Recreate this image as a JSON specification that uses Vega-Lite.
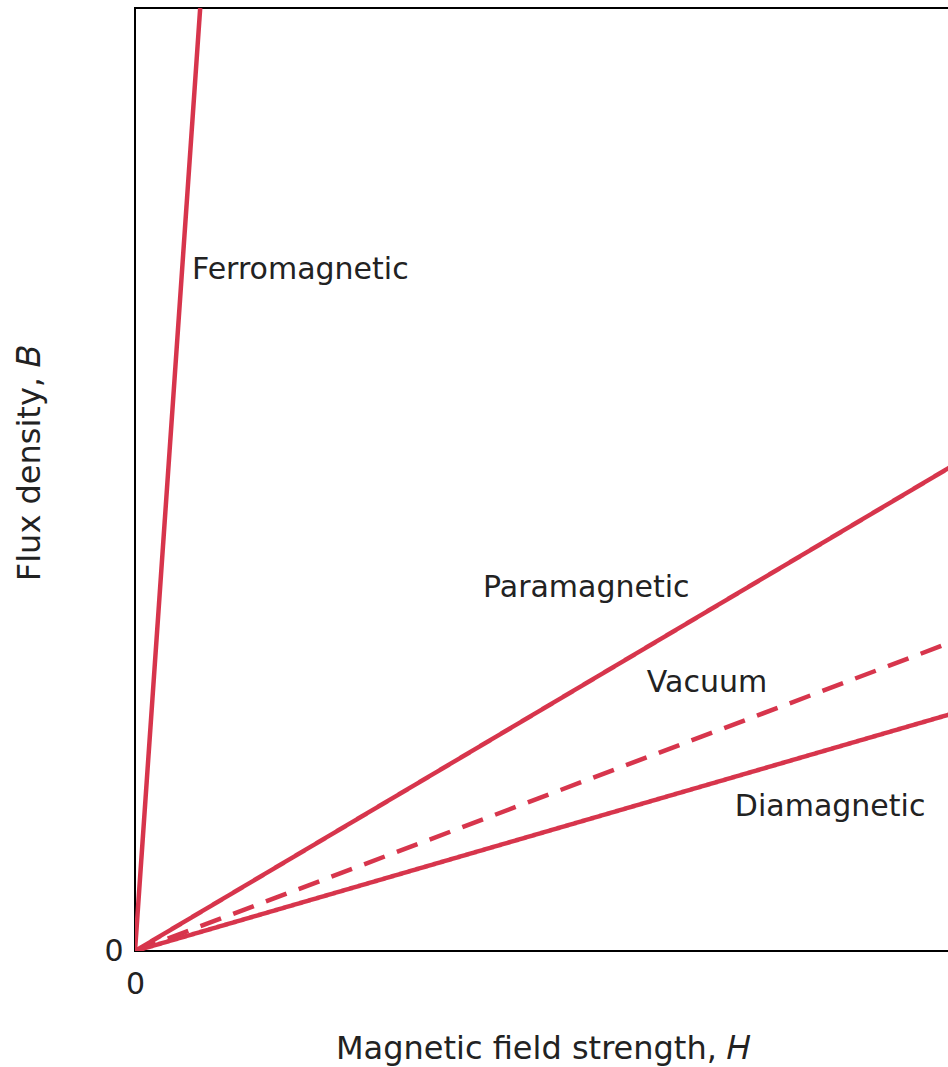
{
  "$schema": "https://vega.github.io/schema/vega-lite/v6.json",
  "width": 815,
  "height": 943,
  "autosize": {"type": "none"},
  "padding": {"left": 135, "top": 8, "right": 0, "bottom": 116},
  "background": "white",
  "config": {
    "view": {"stroke": "black", "strokeWidth": 2},
    "font": "DejaVu Sans"
  },
  "datasets": {
    "lines": [
      {"material": "Ferromagnetic", "H": 0, "B": 0},
      {"material": "Ferromagnetic", "H": 8.0, "B": 100},
      {"material": "Paramagnetic", "H": 0, "B": 0},
      {"material": "Paramagnetic", "H": 100, "B": 51.3},
      {"material": "Vacuum", "H": 0, "B": 0},
      {"material": "Vacuum", "H": 100, "B": 32.7},
      {"material": "Diamagnetic", "H": 0, "B": 0},
      {"material": "Diamagnetic", "H": 100, "B": 25.1}
    ],
    "labels": [
      {"label": "Ferromagnetic", "H": 7.0, "B": 72.2},
      {"label": "Paramagnetic", "H": 42.7, "B": 38.5},
      {"label": "Vacuum", "H": 62.8, "B": 28.4},
      {"label": "Diamagnetic", "H": 73.6, "B": 15.3}
    ]
  },
  "layer": [
    {
      "data": {"name": "lines"},
      "mark": {"type": "line", "color": "#d7354c", "strokeWidth": 4.5, "clip": true},
      "encoding": {
        "x": {"field": "H", "type": "quantitative", "scale": {"domain": [0, 100]},
          "axis": {"values": [0], "ticks": false, "grid": false, "domain": false,
            "labelFontSize": 30, "labelColor": "#222", "labelPadding": 18, "labelFlush": false,
            "title": "Magnetic field strength, 𝐻", "titleFontSize": 32, "titleFontWeight": "normal",
            "titleColor": "#222", "titlePadding": 34}},
        "y": {"field": "B", "type": "quantitative", "scale": {"domain": [0, 100]},
          "axis": {"values": [0], "ticks": false, "grid": false, "domain": false,
            "labelFontSize": 30, "labelColor": "#222", "labelPadding": 12, "labelFlush": false,
            "labelBaseline": "middle", "labelAlign": "right",
            "title": "Flux density, 𝐵", "titleFontSize": 32, "titleFontWeight": "normal",
            "titleColor": "#222", "titlePadding": 57, "titleY": 455}},
        "detail": {"field": "material"},
        "strokeDash": {
          "field": "material", "type": "nominal", "legend": null,
          "scale": {"domain": ["Ferromagnetic", "Paramagnetic", "Vacuum", "Diamagnetic"],
            "range": [[1, 0], [1, 0], [22, 13], [1, 0]]}
        }
      }
    },
    {
      "data": {"name": "labels"},
      "mark": {"type": "text", "align": "left", "baseline": "middle", "fontSize": 30, "color": "#222"},
      "encoding": {
        "x": {"field": "H", "type": "quantitative"},
        "y": {"field": "B", "type": "quantitative"},
        "text": {"field": "label"}
      }
    }
  ]
}
